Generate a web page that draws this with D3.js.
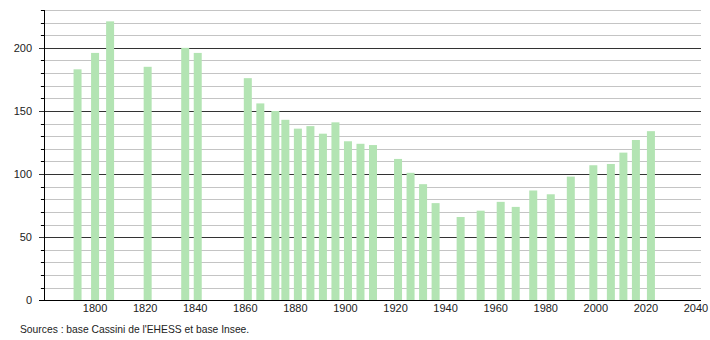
<!DOCTYPE html>
<html>
<head>
<meta charset="utf-8">
<script src="https://cdn.jsdelivr.net/npm/d3@7"></script>
<style>
body { margin: 0; background: #fff; }
text { font-family: "Liberation Sans", Arial, sans-serif; }
</style>
</head>
<body>
<script>
// population data (years and inhabitants)
var years = [1793, 1800, 1806, 1821, 1836, 1841, 1861, 1866, 1872, 1876, 1881, 1886,
	1891, 1896, 1901, 1906, 1911, 1921, 1926, 1931, 1936, 1946, 1954, 1962, 1968,
	1975, 1982, 1990, 1999, 2006, 2011, 2016, 2022];
var population = [183, 196, 221, 185, 200, 196, 176, 156, 150, 143, 136, 138,
	132, 141, 126, 124, 123, 112, 101, 92, 77, 66, 71, 78, 74,
	87, 84, 98, 107, 108, 117, 127, 134];
var xTicks = [1800, 1820, 1840, 1860, 1880, 1900, 1920, 1940, 1960, 1980, 2000, 2020, 2040];
var yMajor = [0, 50, 100, 150, 200];
var sourceText = "Sources : base Cassini de l'EHESS et base Insee.";

var width = 710, height = 340;

var svg = d3.select("body")
	.append("svg")
	.attr("width", width)
	.attr("height", height);

var x = d3.scaleLinear().domain([1780, 2042]).range([45, 701]);
var y = d3.scaleLinear().domain([0, 230]).range([300.3, 10]);

// gridlines, minor every 10, major every 50
var minor = d3.range(10, 231, 10).filter(function(v) { return v % 50 != 0; });
svg.selectAll(".minor")
	.data(minor)
	.enter().append("line")
	.attr("x1", 40.5).attr("x2", 701)
	.attr("y1", function(d) { return Math.round(y(d)) + 0.5; })
	.attr("y2", function(d) { return Math.round(y(d)) + 0.5; })
	.style("stroke", "#c4c4c4")
	.style("stroke-width", 1);
svg.selectAll(".minortick")
	.data(minor)
	.enter().append("line")
	.attr("x1", 41).attr("x2", 45)
	.attr("y1", function(d) { return Math.round(y(d)) + 0.5; })
	.attr("y2", function(d) { return Math.round(y(d)) + 0.5; })
	.style("stroke", "#000");

svg.selectAll(".major")
	.data(yMajor.slice(1))
	.enter().append("line")
	.attr("x1", 39).attr("x2", 701)
	.attr("y1", function(d) { return Math.round(y(d)) + 0.5; })
	.attr("y2", function(d) { return Math.round(y(d)) + 0.5; })
	.style("stroke", "#333")
	.style("stroke-width", 1);

// bars
svg.selectAll(".bar")
	.data(years)
	.enter().append("rect")
	.attr("x", function(d) { return x(d) - 4; })
	.attr("width", 8)
	.attr("y", function(d, i) { return y(population[i]); })
	.attr("height", function(d, i) { return y(0) - y(population[i]); })
	.style("fill", "#b3e4b3");

// axes lines
svg.append("line")
	.attr("x1", 44.5).attr("x2", 44.5)
	.attr("y1", 10).attr("y2", 301)
	.style("stroke", "#000");
svg.append("line")
	.attr("x1", 39).attr("x2", 701)
	.attr("y1", 300.5).attr("y2", 300.5)
	.style("stroke", "#000");

// labels
svg.selectAll(".ylab")
	.data(yMajor)
	.enter().append("text")
	.attr("x", 32)
	.attr("y", function(d) { return y(d) + 4; })
	.attr("text-anchor", "end")
	.style("font-size", "11px")
	.style("fill", "#222")
	.text(function(d) { return d; });

svg.selectAll(".xlab")
	.data(xTicks)
	.enter().append("text")
	.attr("x", function(d) { return x(d); })
	.attr("y", 312)
	.attr("text-anchor", "middle")
	.style("font-size", "11px")
	.style("fill", "#222")
	.text(function(d) { return d; });

svg.append("text")
	.attr("x", 20)
	.attr("y", 333)
	.style("font-size", "10.3px")
	.style("fill", "#222")
	.text(sourceText);
</script>
</body>
</html>
